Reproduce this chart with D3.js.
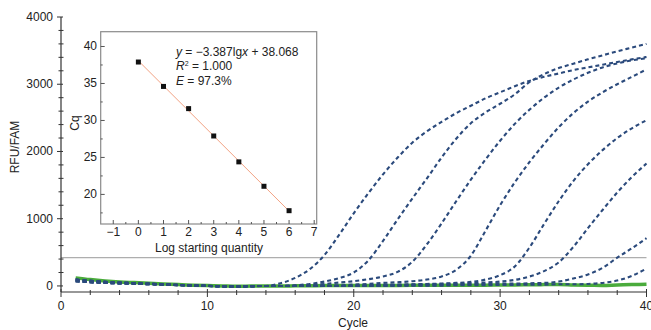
<!DOCTYPE html>
<meta charset="utf-8">
<script src="https://cdn.jsdelivr.net/npm/d3@7"></script>
<style>
  body { margin: 0; background: #fff; }
  text { font-family: "Liberation Sans", Arial, sans-serif; fill: #222; }
</style>
<div id="chart"></div>
<script>
// amplification data, RFU per cycle
const cycles = d3.range(1, 41)
const base = [95, 75, 60, 50, 42, 35, 25, 15, 8, 2, -5, -8, -3, 0]
const baseLow = [70, 55, 45, 38, 32, 26, 20, 12, 6, 0, -6, -8, -4, 0]

const amp1 = base.concat([40, 120, 250, 460, 760, 1080, 1380, 1660, 1910, 2130, 2300, 2440, 2570, 2680,
  2790, 2880, 2970, 3050, 3110, 3160, 3210, 3250, 3290, 3330, 3370, 3405])
const amp2 = baseLow.concat([0, 10, 30, 65, 115, 200, 380, 670, 990, 1300, 1600, 1910, 2190, 2420,
  2580, 2710, 2850, 3030, 3150, 3240, 3305, 3370, 3430, 3490, 3545, 3600])
const amp3 = base.concat([0, 5, 15, 30, 50, 70, 100, 140, 210, 360, 620, 930, 1260, 1580,
  1880, 2160, 2410, 2620, 2800, 2950, 3070, 3170, 3250, 3310, 3355, 3385])
const amp4 = baseLow.concat([0, 0, 0, 5, 10, 20, 30, 45, 55, 70, 95, 140, 240, 450,
  820, 1200, 1540, 1840, 2110, 2360, 2570, 2740, 2880, 3000, 3110, 3220])
const amp5 = base.concat([0, 0, 0, 0, 0, 5, 10, 15, 20, 25, 30, 35, 45, 60,
  95, 160, 290, 570, 920, 1260, 1560, 1810, 2020, 2200, 2345, 2465])
const amp6 = baseLow.concat([0, 0, 0, 0, 0, 0, 5, 10, 15, 20, 25, 30, 35, 40,
  50, 65, 90, 140, 220, 350, 580, 860, 1130, 1390, 1620, 1820])
const amp7 = base.concat([0, 0, 0, 0, 0, 0, 0, 5, 5, 10, 10, 15, 20, 25,
  30, 35, 35, 40, 45, 65, 110, 170, 270, 420, 560, 710])
const amp8 = baseLow.concat([0, 0, 0, 0, 0, 0, 0, 0, 0, 5, 5, 5, 10, 10,
  10, 15, 15, 20, 20, 25, 25, 30, 45, 80, 150, 260])
const ntc = [120, 95, 75, 60, 50, 40, 30, 20, 12, 5, 0, -5, -2, 0, 0, 2, 3, 5, 5, 5,
  5, 8, 8, 10, 10, 10, 12, 12, 12, 15, 15, 18, 20, 22, 15, 10, 8, 15, 20, 25]

const dashedSeries = [amp1, amp2, amp3, amp4, amp5, amp6, amp7, amp8]
const threshold = 420

// standard curve (inset)
const logQty = [0, 1, 2, 3, 4, 5, 6]
const cqValues = [37.9, 34.6, 31.6, 27.9, 24.4, 21.1, 17.8]
const slope = -3.387
const intercept = 38.068

const width = 651, height = 330

const svg = d3.select("#chart").append("svg")
    .attr("width", width)
    .attr("height", height)

const x = d3.scaleLinear().domain([0, 40]).range([61, 646.5])
const y = d3.scaleLinear().domain([-90, 4000]).range([292, 17])

const axisColor = "#333"

// threshold
svg.append("line")
    .attr("x1", x(0)).attr("x2", x(40))
    .attr("y1", y(threshold)).attr("y2", y(threshold))
    .attr("stroke", "#9a9a9a").attr("stroke-width", 1)

const line = d3.line()
    .x((d, i) => x(cycles[i]))
    .y(d => y(d))
    .curve(d3.curveMonotoneX)

// NTC green
svg.append("path")
    .attr("d", line(ntc))
    .attr("fill", "none")
    .attr("stroke", "#4aab3c")
    .attr("stroke-width", 3.5)

svg.append("g")
    .selectAll("path")
    .data(dashedSeries)
    .join("path")
        .attr("d", d => line(d))
        .attr("fill", "none")
        .attr("stroke", "#2b4a7c")
        .attr("stroke-width", 2.1)
        .attr("stroke-dasharray", "4,3")

// main axes
svg.append("line")
    .attr("x1", x(0)).attr("x2", x(40))
    .attr("y1", 292).attr("y2", 292)
    .attr("stroke", axisColor).attr("stroke-width", 1.2)
svg.append("line")
    .attr("x1", x(0)).attr("x2", x(0))
    .attr("y1", 292).attr("y2", y(4000))
    .attr("stroke", axisColor).attr("stroke-width", 1.2)

const xMajor = [0, 10, 20, 30, 40]
const xMinor = d3.range(2, 40, 2).filter(v => v % 10 !== 0)
svg.append("g").selectAll("line").data(xMajor).join("line")
    .attr("x1", d => x(d)).attr("x2", d => x(d))
    .attr("y1", 289).attr("y2", 297)
    .attr("stroke", axisColor)
svg.append("g").selectAll("line").data(xMinor).join("line")
    .attr("x1", d => x(d)).attr("x2", d => x(d))
    .attr("y1", 290).attr("y2", 295)
    .attr("stroke", axisColor)
svg.append("g").selectAll("text").data(xMajor).join("text")
    .attr("x", d => x(d)).attr("y", 310)
    .attr("text-anchor", "middle")
    .style("font-size", "12px")
    .text(d => d)

const yMajor = [0, 1000, 2000, 3000, 4000]
const yMinor = d3.range(200, 4000, 200).filter(v => v % 1000 !== 0)
svg.append("g").selectAll("line").data(yMajor).join("line")
    .attr("x1", x(0) - 4).attr("x2", x(0) + 2)
    .attr("y1", d => y(d)).attr("y2", d => y(d))
    .attr("stroke", axisColor)
svg.append("g").selectAll("line").data(yMinor).join("line")
    .attr("x1", x(0) - 2.5).attr("x2", x(0) + 2.5)
    .attr("y1", d => y(d)).attr("y2", d => y(d))
    .attr("stroke", axisColor)
svg.append("g").selectAll("text").data(yMajor).join("text")
    .attr("x", 53).attr("y", d => y(d) + 4)
    .attr("text-anchor", "end")
    .style("font-size", "12px")
    .text(d => d)

svg.append("text")
    .attr("x", 353).attr("y", 327)
    .attr("text-anchor", "middle")
    .style("font-size", "12px")
    .text("Cycle")
svg.append("text")
    .attr("transform", "translate(19,147) rotate(-90)")
    .attr("text-anchor", "middle")
    .style("font-size", "12px")
    .text("RFU/FAM")

// ---- inset standard curve ----
const ix = d3.scaleLinear().domain([-1.5, 7.1]).range([100.7, 316.7])
const iy = d3.scaleLinear().domain([16, 42]).range([224, 31.7])

const inset = svg.append("g")
inset.append("rect")
    .attr("x", ix(-1.5)).attr("y", iy(42))
    .attr("width", ix(7.1) - ix(-1.5))
    .attr("height", iy(16) - iy(42))
    .attr("fill", "#fff")
    .attr("stroke", "#8a8a8a").attr("stroke-width", 1.2)

const ixMajor = d3.range(-1, 8)
const ixMinor = d3.range(-1, 7).map(v => v + 0.5)
inset.append("g").selectAll("line").data(ixMajor).join("line")
    .attr("x1", d => ix(d)).attr("x2", d => ix(d))
    .attr("y1", iy(16)).attr("y2", iy(16) - 4)
    .attr("stroke", "#555")
inset.append("g").selectAll("line").data(ixMinor).join("line")
    .attr("x1", d => ix(d)).attr("x2", d => ix(d))
    .attr("y1", iy(16)).attr("y2", iy(16) - 2)
    .attr("stroke", "#555")
inset.append("g").selectAll("text").data(ixMajor).join("text")
    .attr("x", d => ix(d)).attr("y", iy(16) + 12)
    .attr("text-anchor", "middle")
    .style("font-size", "12px")
    .text(d => d < 0 ? "\u2212" + Math.abs(d) : d)

const iyMajor = [20, 25, 30, 35, 40]
const iyMinor = [17.5, 22.5, 27.5, 32.5, 37.5]
inset.append("g").selectAll("line").data(iyMajor).join("line")
    .attr("x1", ix(-1.5)).attr("x2", ix(-1.5) + 4)
    .attr("y1", d => iy(d)).attr("y2", d => iy(d))
    .attr("stroke", "#555")
inset.append("g").selectAll("line").data(iyMinor).join("line")
    .attr("x1", ix(-1.5)).attr("x2", ix(-1.5) + 2)
    .attr("y1", d => iy(d)).attr("y2", d => iy(d))
    .attr("stroke", "#555")
inset.append("g").selectAll("text").data(iyMajor).join("text")
    .attr("x", 97).attr("y", d => iy(d) + 4)
    .attr("text-anchor", "end")
    .style("font-size", "12px")
    .text(d => d)

inset.append("line")
    .attr("x1", ix(0)).attr("x2", ix(6))
    .attr("y1", iy(intercept)).attr("y2", iy(intercept + slope * 6))
    .attr("stroke", "#f2a283").attr("stroke-width", 1)

inset.append("g").selectAll("rect").data(logQty).join("rect")
    .attr("x", d => ix(d) - 2.5)
    .attr("y", (d, i) => iy(cqValues[i]) - 2.5)
    .attr("width", 5).attr("height", 5)
    .attr("fill", "#111")

inset.append("text")
    .attr("x", 209).attr("y", 252)
    .attr("text-anchor", "middle")
    .style("font-size", "12px")
    .text("Log starting quantity")
inset.append("text")
    .attr("transform", "translate(79,123) rotate(-90)")
    .attr("text-anchor", "middle")
    .style("font-size", "12px")
    .text("Cq")

const eq = inset.append("text").attr("x", 176).attr("y", 56).style("font-size", "12px")
eq.append("tspan").style("font-style", "italic").text("y")
eq.append("tspan").text(" = \u22123.387lg")
eq.append("tspan").style("font-style", "italic").text("x")
eq.append("tspan").text(" + 38.068")

const r2 = inset.append("text").attr("x", 176).attr("y", 70).style("font-size", "12px")
r2.append("tspan").style("font-style", "italic").text("R")
r2.append("tspan").attr("dy", -4).style("font-size", "7px").text("2")
r2.append("tspan").attr("dy", 4).text(" = 1.000")

const ef = inset.append("text").attr("x", 176).attr("y", 85).style("font-size", "12px")
ef.append("tspan").style("font-style", "italic").text("E")
ef.append("tspan").text(" = 97.3%")
</script>
